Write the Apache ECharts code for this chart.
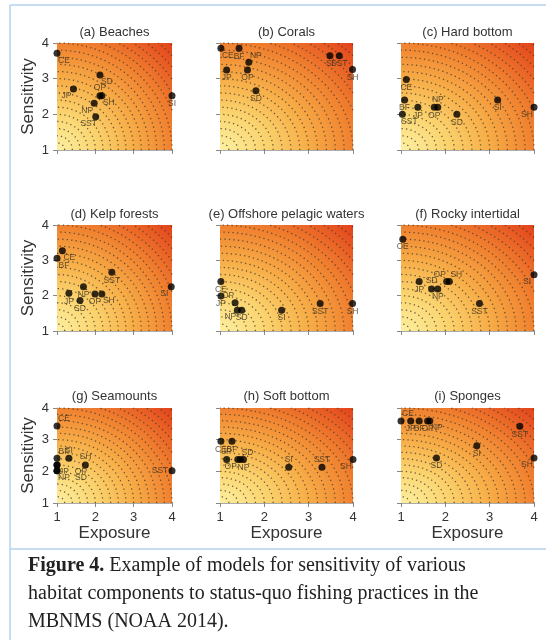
<!DOCTYPE html>
<html>
<head>
<meta charset="utf-8">
<script src="https://cdn.jsdelivr.net/npm/echarts@6/dist/echarts.min.js"></script>
<style>
  html, body { margin: 0; padding: 0; background: #fff; }
  #chart { width: 546px; height: 640px; }
</style>
</head>
<body>
<div id="chart"></div>
<script>
// panel titles
const panelTitles = ['(a) Beaches', '(b) Corals', '(c) Hard bottom',
  '(d) Kelp forests', '(e) Offshore pelagic waters', '(f) Rocky intertidal',
  '(g) Seamounts', '(h) Soft bottom', '(i) Sponges'];

const axisTicks = [1, 2, 3, 4];

// (a) Beaches
const codesA = ['CE', 'SD', 'JP', 'OP', 'SH', 'NP', 'SST', 'SI'];
const exposureA = [1.0, 2.12, 1.43, 2.12, 2.17, 1.97, 2.01, 4.0];
const sensitivityA = [3.71, 3.10, 2.71, 2.52, 2.52, 2.31, 1.93, 2.52];
// (b) Corals
const codesB = ['CE', 'BF', 'NP', 'JP', 'OP', 'SD', 'SI', 'SST', 'SH'];
const exposureB = [1.02, 1.43, 1.65, 1.15, 1.62, 1.81, 3.48, 3.69, 3.99];
const sensitivityB = [3.85, 3.85, 3.46, 3.24, 3.24, 2.66, 3.64, 3.64, 3.26];
// (c) Hard bottom
const codesC = ['CE', 'BF', 'JP', 'SST', 'OP', 'NP', 'SD', 'SI', 'SH'];
const exposureC = [1.12, 1.08, 1.38, 1.03, 1.75, 1.83, 2.26, 3.18, 4.0];
const sensitivityC = [2.98, 2.40, 2.20, 2.00, 2.20, 2.20, 2.00, 2.40, 2.20];
// (d) Kelp forests
const codesD = ['CE', 'BF', 'JP', 'SST', 'NP', 'OP', 'SH', 'SD', 'SI'];
const exposureD = [1.14, 1.0, 1.31, 2.43, 1.69, 1.99, 2.17, 1.60, 3.98];
const sensitivityD = [3.27, 3.06, 2.07, 2.66, 2.25, 2.05, 2.05, 1.86, 2.25];
// (e) Offshore pelagic waters
const codesE = ['CE', 'JP', 'OP', 'NP', 'SD', 'SI', 'SST', 'SH'];
const exposureE = [1.02, 1.02, 1.34, 1.39, 1.49, 2.39, 3.26, 3.99];
const sensitivityE = [2.40, 1.99, 1.80, 1.59, 1.59, 1.59, 1.78, 1.78];
// (f) Rocky intertidal
const codesF = ['CE', 'JP', 'SD', 'NP', 'OP', 'SH', 'SST', 'SI'];
const exposureF = [1.04, 1.41, 1.69, 1.83, 2.03, 2.09, 2.77, 4.0];
const sensitivityF = [3.60, 2.40, 2.19, 2.19, 2.40, 2.40, 1.78, 2.59];
// (g) Seamounts
const codesG = ['CE', 'BF', 'SI', 'JP', 'OP', 'NP', 'SD', 'SH', 'SST'];
const exposureG = [1.0, 1.0, 1.31, 1.0, 1.0, 1.0, 1.0, 1.74, 4.0];
const sensitivityG = [3.43, 2.41, 2.41, 2.20, 2.20, 2.02, 2.02, 2.20, 2.02];
// (h) Soft bottom
const codesH = ['CE', 'BF', 'JP', 'OP', 'SD', 'NP', 'SI', 'SST', 'SH'];
const exposureH = [1.02, 1.27, 1.15, 1.40, 1.46, 1.53, 2.55, 3.30, 4.0];
const sensitivityH = [2.95, 2.95, 2.37, 2.37, 2.37, 2.37, 2.13, 2.13, 2.37];
// (i) Sponges
const codesI = ['CE', 'JP', 'BF', 'OP', 'NP', 'SST', 'SI', 'SD', 'SH'];
const exposureI = [1.0, 1.22, 1.41, 1.60, 1.65, 3.68, 2.71, 1.80, 4.0];
const sensitivityI = [3.59, 3.59, 3.59, 3.59, 3.59, 3.42, 2.81, 2.42, 2.42];

// where each code label sits around its dot
const placeA = ['br', 'br', 'bl', 't', 'br', 'bl', 'bl', 'b'];
const placeB = ['br', 'b', 'tr', 'b', 'b', 'b', 'b', 'b', 'b'];
const placeC = ['b', 'b', 'b', 'br', 'b', 't', 'b', 'b', 'bl'];
const placeD = ['br', 'br', 'b', 'b', 'b', 'b', 'br', 'b', 'bl'];
const placeE = ['b', 'b', 'tl', 'bl', 'b', 'b', 'b', 'b'];
const placeF = ['b', 'b', 't', 'b', 'tl', 'tr', 'b', 'bl'];
const placeG = ['tr', 'tr', 't', 'br', 'br2', 'br', 'br2', 't', 'l'];
const placeH = ['b', 'b', 't', 'bl', 'tr', 'b', 't', 't', 'bl'];
const placeI = ['tr', 'b', 'b', 'b', 'br', 'b', 'b', 'b', 'bl'];

// contour radii (distance from the (1,1) corner)
const contourLevels = [0.2, 0.4, 0.6, 0.8, 1.0, 1.2, 1.4, 1.6, 1.8, 2.0, 2.2,
  2.4, 2.6, 2.8, 3.0, 3.2, 3.4, 3.6, 3.8, 4.0, 4.2];

const panels = [
  [codesA, exposureA, sensitivityA, placeA],
  [codesB, exposureB, sensitivityB, placeB],
  [codesC, exposureC, sensitivityC, placeC],
  [codesD, exposureD, sensitivityD, placeD],
  [codesE, exposureE, sensitivityE, placeE],
  [codesF, exposureF, sensitivityF, placeF],
  [codesG, exposureG, sensitivityG, placeG],
  [codesH, exposureH, sensitivityH, placeH],
  [codesI, exposureI, sensitivityI, placeI]
];

const colLeft = [57, 220, 401];
const colWidth = [115, 133, 133];
const rowTop = [43, 225, 408];
const rowHeight = [107, 106, 95];
const titleTop = [26, 208, 390];

const labelOffsets = {
  b: [0, 8], t: [0, -8], br: [7, 7], bl: [-7, 7], tr: [7, -7], tl: [-7, -7],
  l: [-12, 0], br2: [24, 7]
};

const FONT = 'Liberation Sans, Arial, Helvetica, sans-serif';
const SERIF = '"Liberation Serif", "Times New Roman", serif';
const axisMin = axisTicks[0];
const axisMax = axisTicks[axisTicks.length - 1];

function renderBackground(params, api) {
  const p0 = api.coord([axisMin, axisMin]);
  const p1 = api.coord([axisMax, axisMax]);
  const w = p1[0] - p0[0];
  const h = p0[1] - p1[1];
  const span = axisMax - axisMin;
  const children = [{
    type: 'rect',
    x: p0[0],
    y: p0[1],
    scaleY: h / w,
    shape: { x: 0, y: -w, width: w, height: w },
    style: {
      fill: new echarts.graphic.RadialGradient(0, 1, Math.SQRT2, [
        { offset: 0, color: '#fdf0a2' },
        { offset: 0.24, color: '#fbd570' },
        { offset: 0.47, color: '#f7ad47' },
        { offset: 0.71, color: '#f0802f' },
        { offset: 1, color: '#e3421b' }
      ])
    }
  }];
  contourLevels.forEach(function (r) {
    if (r >= span * Math.SQRT2) return;
    const t0 = r > span ? Math.acos(span / r) : 0;
    const t1 = r > span ? Math.asin(span / r) : Math.PI / 2;
    const pts = [];
    for (let k = 0; k <= 40; k++) {
      const t = t0 + (t1 - t0) * k / 40;
      pts.push(api.coord([axisMin + r * Math.cos(t), axisMin + r * Math.sin(t)]));
    }
    children.push({
      type: 'polyline',
      shape: { points: pts },
      style: { stroke: 'rgba(75,60,45,0.8)', lineWidth: 1.3, lineDash: [1.3, 3.2], fill: null }
    });
  });
  return { type: 'group', children: children };
}

const grid = [], xAxis = [], yAxis = [], title = [], series = [];

panels.forEach(function (p, i) {
  const row = Math.floor(i / 3), col = i % 3;
  grid.push({ left: colLeft[col], top: rowTop[row], width: colWidth[col], height: rowHeight[row] });
  title.push({
    text: panelTitles[i],
    left: colLeft[col] + colWidth[col] / 2,
    top: titleTop[row],
    textAlign: 'center',
    padding: 0,
    textStyle: { fontSize: 13, fontWeight: 'normal', color: '#333', fontFamily: FONT }
  });
  xAxis.push({
    gridIndex: i, type: 'value', min: axisMin, max: axisMax, interval: 1,
    axisLine: { show: true, lineStyle: { color: '#aaa', width: 1 } },
    axisTick: { show: true, length: 4, lineStyle: { color: '#888' } },
    axisLabel: { show: row === 2, fontSize: 13, color: '#333', margin: 8, fontFamily: FONT },
    splitLine: { show: false },
    name: row === 2 ? 'Exposure' : '',
    nameLocation: 'middle', nameGap: 21,
    nameTextStyle: { fontSize: 17, color: '#333', fontFamily: FONT }
  });
  yAxis.push({
    gridIndex: i, type: 'value', min: axisMin, max: axisMax, interval: 1,
    axisLine: { show: true, lineStyle: { color: '#aaa', width: 1 } },
    axisTick: { show: true, length: 4, lineStyle: { color: '#888' } },
    axisLabel: { show: col === 0, fontSize: 13, color: '#333', margin: 8, fontFamily: FONT },
    splitLine: { show: false },
    name: col === 0 ? 'Sensitivity' : '',
    nameLocation: 'middle', nameGap: 20, nameRotate: 90,
    nameTextStyle: { fontSize: 17, color: '#333', fontFamily: FONT }
  });
  series.push({
    type: 'custom', xAxisIndex: i, yAxisIndex: i, silent: true, z: 1,
    renderItem: renderBackground, data: [[axisMin, axisMin]]
  });
  const codes = p[0], ex = p[1], se = p[2], pl = p[3];
  series.push({
    type: 'scatter', xAxisIndex: i, yAxisIndex: i, z: 3,
    symbolSize: 7, itemStyle: { color: '#000' },
    label: {
      show: true, position: 'inside', formatter: '{b}',
      fontSize: 8.5, color: '#3a3222', fontFamily: FONT
    },
    data: codes.map(function (c, k) {
      return { name: c, value: [ex[k], se[k]], label: { offset: labelOffsets[pl[k]] } };
    })
  });
});

const chart = echarts.init(document.getElementById('chart'), null, { renderer: 'canvas' });
chart.setOption({
  animation: false,
  backgroundColor: '#fff',
  textStyle: { fontFamily: FONT },
  title: title,
  grid: grid,
  xAxis: xAxis,
  yAxis: yAxis,
  series: series,
  graphic: [
    { type: 'line', shape: { x1: 10, y1: 5, x2: 546, y2: 5 }, style: { stroke: '#c6dcf1', lineWidth: 2 } },
    { type: 'line', shape: { x1: 10, y1: 5, x2: 10, y2: 640 }, style: { stroke: '#c6dcf1', lineWidth: 2 } },
    { type: 'line', shape: { x1: 10, y1: 549, x2: 546, y2: 549 }, style: { stroke: '#c6dcf1', lineWidth: 2 } },
    {
      type: 'text', x: 28, y: 566,
      style: {
        text: '{b|Figure 4.} Example of models for sensitivity of various',
        verticalAlign: 'middle', fill: '#222',
        font: '20px ' + SERIF,
        rich: { b: { fontWeight: 'bold', fontSize: 20, fontFamily: 'Liberation Serif', fill: '#222' } }
      }
    },
    {
      type: 'text', x: 28, y: 594,
      style: {
        text: 'habitat components to status-quo fishing practices in the',
        verticalAlign: 'middle', fill: '#222',
        font: '20px ' + SERIF
      }
    },
    {
      type: 'text', x: 28, y: 622,
      style: {
        text: 'MBNMS (NOAA 2014).',
        verticalAlign: 'middle', fill: '#222',
        font: '20px ' + SERIF
      }
    }
  ]
});
</script>
</body>
</html>
